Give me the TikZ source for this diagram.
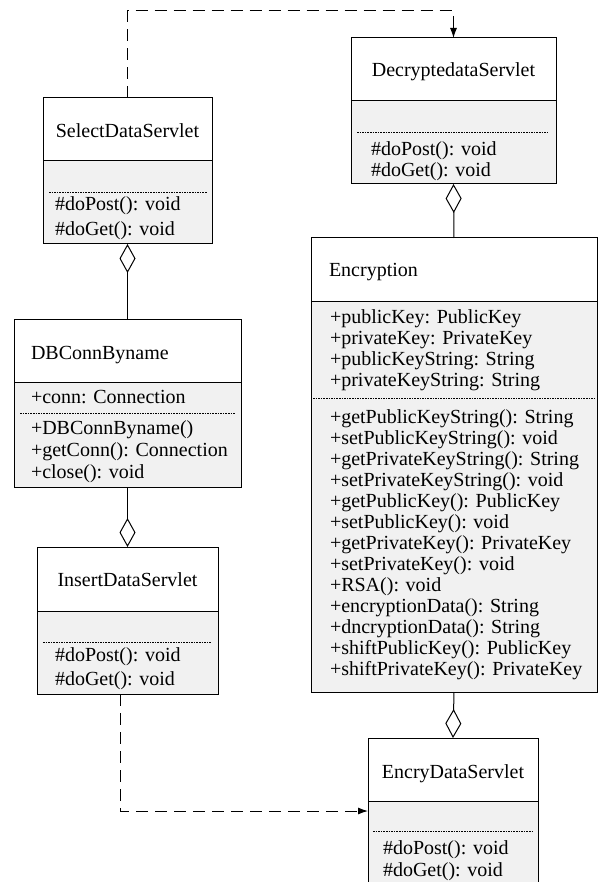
\documentclass[tikz,border=0pt]{standalone}
\usepackage{fontspec}
\setmainfont{Liberation Serif}
\usetikzlibrary{arrows.meta}
\definecolor{compfill}{RGB}{241,241,241}
\begin{document}
\begin{tikzpicture}[x=1pt,y=-1pt,
  line width=1pt,
  namebox/.style={draw, fill=white, inner sep=0pt, outer sep=0pt, anchor=north west},
  membox/.style={draw, fill=compfill, inner sep=0pt, outer sep=0pt, anchor=north west},
  txt/.style={inner sep=0pt, outer sep=0pt, font=\fontsize{20}{24}\selectfont},
  line/.style={txt, anchor=base west},
  title/.style={txt, anchor=base},
  sep/.style={line width=0.6pt, dash pattern=on 1.6pt off 1pt},
  depend/.style={line width=1pt, dash pattern=on 12pt off 7pt, -{Latex[length=10pt,width=7pt]}},
  aggr/.style={line width=1pt, {Diamond[open,length=29pt,width=16pt]}-},
]
\useasboundingbox (0,0) rectangle (598,882);
\clip (0,0) rectangle (598,882);

% SelectDataServlet
\node[namebox, minimum width=169pt, minimum height=63pt] (S) at (43,98) {};
\node[membox, minimum width=169pt, minimum height=83pt] (Sb) at (43,161) {};
\node[title] (St) at (127.5,138) {SelectDataServlet};
\draw[sep] (49,192) -- (207,192);
\node[line] (S1) at (55,211) {\#doPost(): void};
\node[line] (S2) at (55,236) {\#doGet(): void};

% DecryptedataServlet
\node[namebox, minimum width=205pt, minimum height=63pt] (D) at (351,38) {};
\node[membox, minimum width=205pt, minimum height=83pt] (Db) at (351,101) {};
\node[title] (Dt) at (453.5,76.5) {DecryptedataServlet};
\draw[sep] (357,132) -- (549,132);
\node[line] (D1) at (371,155.5) {\#doPost(): void};
\node[line] (D2) at (371,176.5) {\#doGet(): void};

% Encryption
\node[namebox, minimum width=286pt, minimum height=63pt] (E) at (311,238) {};
\node[membox, minimum width=286pt, minimum height=391pt] (Eb) at (311,301) {};
\node[line] (Et) at (329,276.5) {Encryption};
\foreach \t [count=\k from 0] in {%
  +publicKey: PublicKey,
  +privateKey: PrivateKey,
  +publicKeyString: String,
  +privateKeyString: String}
  \node[line] (Ea\k) at (330,323.5+21*\k) {\t};
\draw[sep] (313,398) -- (595,398);
\foreach \t [count=\k from 0] in {%
  +getPublicKeyString(): String,
  +setPublicKeyString(): void,
  +getPrivateKeyString(): String,
  +setPrivateKeyString(): void,
  +getPublicKey(): PublicKey,
  +setPublicKey(): void,
  +getPrivateKey(): PrivateKey,
  +setPrivateKey(): void,
  +RSA(): void,
  +encryptionData(): String,
  +dncryptionData(): String,
  +shiftPublicKey(): PublicKey,
  +shiftPrivateKey(): PrivateKey}
  \node[line] (Em\k) at (330,423.5+21*\k) {\t};

% DBConnByname
\node[namebox, minimum width=227pt, minimum height=63pt] (B) at (14,319) {};
\node[membox, minimum width=227pt, minimum height=105pt] (Bb) at (14,382) {};
\node[line] (Bt) at (31,359.5) {DBConnByname};
\node[line] (B0) at (31,403.5) {+conn: Connection};
\draw[sep] (20,413) -- (235,413);
\node[line] (B1) at (31,434.5) {+DBConnByname()};
\node[line] (B2) at (31,456.5) {+getConn(): Connection};
\node[line] (B3) at (31,478) {+close(): void};

% InsertDataServlet
\node[namebox, minimum width=181pt, minimum height=64pt] (I) at (37,547) {};
\node[membox, minimum width=181pt, minimum height=83pt] (Ib) at (37,611) {};
\node[title] (It) at (127.5,586.5) {InsertDataServlet};
\draw[sep] (43,642) -- (212,642);
\node[line] (I1) at (55,661.5) {\#doPost(): void};
\node[line] (I2) at (55,685.5) {\#doGet(): void};

% EncryDataServlet
\node[namebox, minimum width=170pt, minimum height=63pt] (C) at (368,738) {};
\node[membox, minimum width=170pt, minimum height=120pt] (Cb) at (368,801) {};
\node[title] (Ct) at (453,778.5) {EncryDataServlet};
\draw[sep] (373,831) -- (533,831);
\node[line] (C1) at (383,854.5) {\#doPost(): void};
\node[line] (C2) at (383,876.5) {\#doGet(): void};

% aggregations
\draw[aggr] (Sb.south) -- (B.north);
\draw[aggr] (I.north) -- (Bb.south);
\draw[aggr] (Db.south) -- (E.north);
\draw[aggr] (C.north) -- (Eb.south);

% dependencies
\coordinate (topline) at (0,11);
\draw[depend] (S.north) |- (D.north |- topline) -- (D.north);
\coordinate (cin) at ([yshift=-10pt]Cb.north west);
\draw[depend] ([xshift=-7.5pt]Ib.south) |- (cin);
\end{tikzpicture}
\end{document}
